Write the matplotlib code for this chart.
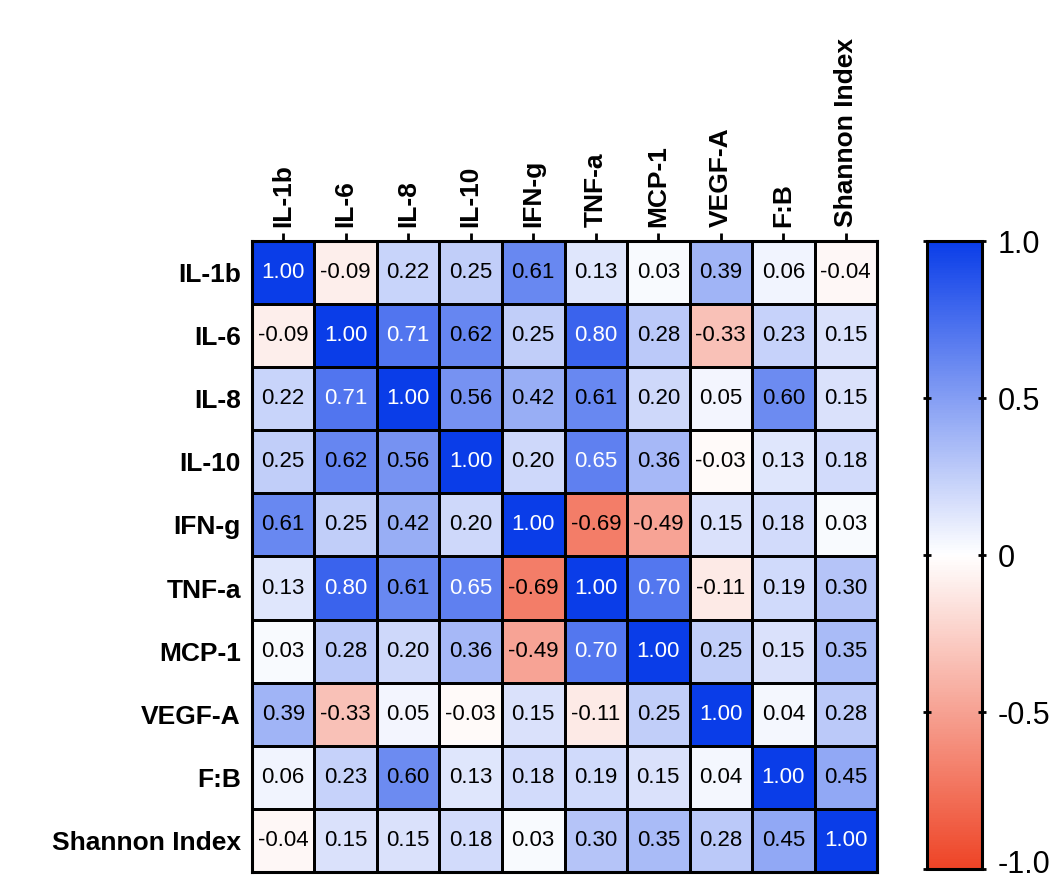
import numpy as np
import matplotlib
matplotlib.use("Agg")
import matplotlib.pyplot as plt
import matplotlib.transforms as mtransforms
from matplotlib.colors import LinearSegmentedColormap, Normalize

labels = ["IL-1b", "IL-6", "IL-8", "IL-10", "IFN-g", "TNF-a", "MCP-1", "VEGF-A", "F:B", "Shannon Index"]

r_il1b = [1.00, -0.09, 0.22, 0.25, 0.61, 0.13, 0.03, 0.39, 0.06, -0.04]
r_il6 = [-0.09, 1.00, 0.71, 0.62, 0.25, 0.80, 0.28, -0.33, 0.23, 0.15]
r_il8 = [0.22, 0.71, 1.00, 0.56, 0.42, 0.61, 0.20, 0.05, 0.60, 0.15]
r_il10 = [0.25, 0.62, 0.56, 1.00, 0.20, 0.65, 0.36, -0.03, 0.13, 0.18]
r_ifng = [0.61, 0.25, 0.42, 0.20, 1.00, -0.69, -0.49, 0.15, 0.18, 0.03]
r_tnfa = [0.13, 0.80, 0.61, 0.65, -0.69, 1.00, 0.70, -0.11, 0.19, 0.30]
r_mcp1 = [0.03, 0.28, 0.20, 0.36, -0.49, 0.70, 1.00, 0.25, 0.15, 0.35]
r_vegfa = [0.39, -0.33, 0.05, -0.03, 0.15, -0.11, 0.25, 1.00, 0.04, 0.28]
r_fb = [0.06, 0.23, 0.60, 0.13, 0.18, 0.19, 0.15, 0.04, 1.00, 0.45]
r_shannon = [-0.04, 0.15, 0.15, 0.18, 0.03, 0.30, 0.35, 0.28, 0.45, 1.00]

cbar_ticks = [-1.0, -0.5, 0, 0.5, 1.0]
cbar_ticklabels = ["-1.0", "-0.5", "0", "0.5", "1.0"]

data = np.array([r_il1b, r_il6, r_il8, r_il10, r_ifng, r_tnfa, r_mcp1, r_vegfa, r_fb, r_shannon])

plt.rcParams['font.family'] = ['Liberation Sans', 'DejaVu Sans']

cmap = LinearSegmentedColormap.from_list("rwb", ["#EE4426", "#FFFFFF", "#0A3DE8"])
norm = Normalize(-1, 1)

fig = plt.figure(figsize=(10.6, 8.82), dpi=100)
ax = fig.add_axes([0.2377, 0.0113, 0.5897, 0.7155])
n = len(labels)
mesh = ax.pcolormesh(np.arange(n + 1), np.arange(n + 1), data, cmap=cmap, norm=norm,
                     edgecolor="black", linewidth=1.0)
ax.set_xlim(0, n)
ax.set_ylim(n, 0)
for i in range(n):
    for j in range(n):
        v = data[i, j]
        color = "white" if v >= 0.645 else "black"
        ax.text(j + 0.5, i + 0.5, f"{v:.2f}", ha="center", va="center",
                fontsize=16, color=color)

ax.xaxis.tick_top()
ax.set_xticks(np.arange(n) + 0.5)
ax.set_xticklabels(labels, rotation=90, fontsize=19, fontweight="bold")
ax.set_yticks(np.arange(n) + 0.5)
ax.set_yticklabels(labels, fontsize=19, fontweight="bold")
ax.tick_params(axis="x", length=6, width=2, pad=4)
ax.tick_params(axis="y", length=0, pad=8)
for s in ax.spines.values():
    s.set_linewidth(2.2)

cax = fig.add_axes([0.8745, 0.0147, 0.0519, 0.7120])
cb = fig.colorbar(mesh, cax=cax, ticks=cbar_ticks)
shown = [lab if lab != "-1.0" else "" for lab in cbar_ticklabels]
cb.ax.set_yticklabels(shown, fontsize=22)
cb.outline.set_linewidth(2.2)
cax.tick_params(axis="y", length=6, width=2, direction="inout", pad=8)
cax.yaxis.set_ticks_position("both")
cax.tick_params(axis="y", left=True, right=True, labelleft=False, labelright=True)
for t in cax.get_yticklabels():
    t.set_verticalalignment("center_baseline")
trans = mtransforms.offset_copy(cax.get_yaxis_transform(), fig=fig, x=11, y=-2.5, units="points")
cax.text(1.0, cbar_ticks[0], cbar_ticklabels[0], transform=trans, ha="left", va="baseline",
         fontsize=22, clip_on=False)

fig.savefig("out.png", dpi=100)
